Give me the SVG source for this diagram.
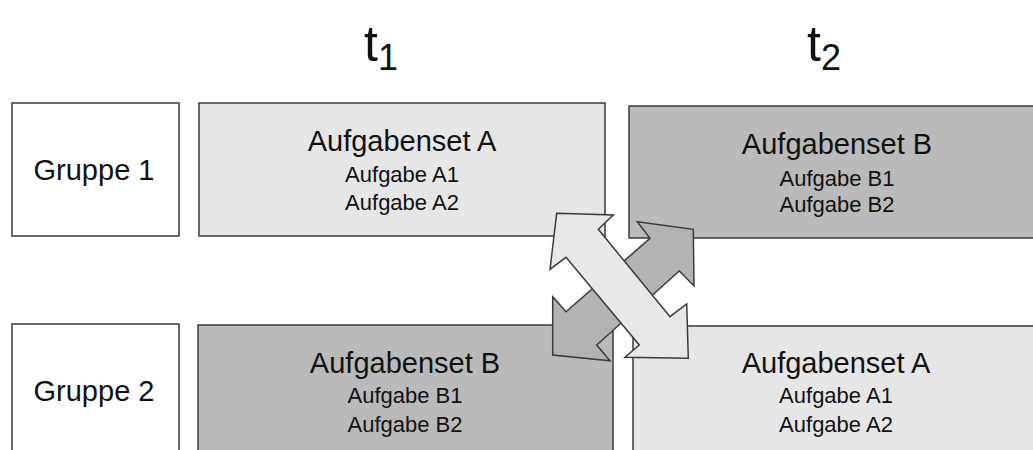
<svg xmlns="http://www.w3.org/2000/svg" width="1033" height="450" viewBox="0 0 1033 450">
<style>
  .box { stroke: #3a3a3a; stroke-width: 1.5; }
  .grp { fill: #ffffff; }
  .lt { fill: #e6e6e6; }
  .dk { fill: #bababa; }
  .t { font-family: "Liberation Sans", Arial, sans-serif; fill: #111; text-anchor: middle; }
  .big { font-size: 29px; }
  .small { font-size: 22px; }
  .time { font-family: "Liberation Sans", Arial, sans-serif; fill: #111; }
  .arr { stroke: #3a3a3a; stroke-width: 1.5; stroke-linejoin: miter; }
</style>
<rect width="1033" height="450" fill="#ffffff"/>
<g id="t1"><text class="time" x="364" y="61" font-size="50">t<tspan font-size="36" dy="9">1</tspan></text></g>
<g id="t2"><text class="time" x="807" y="61" font-size="50">t<tspan font-size="36" dy="9">2</tspan></text></g>
<g id="gruppe1">
  <rect class="box grp" x="12" y="103" width="167" height="133"/>
  <text class="t big" x="94" y="180">Gruppe 1</text>
</g>
<g id="gruppe2">
  <rect class="box grp" x="12" y="324" width="167" height="140"/>
  <text class="t big" x="94" y="401">Gruppe 2</text>
</g>
<g id="g1t1">
  <rect class="box lt" x="199" y="103" width="406" height="133"/>
  <text class="t big" x="402" y="151">Aufgabenset A</text>
  <text class="t small" x="402" y="182">Aufgabe A1</text>
  <text class="t small" x="402" y="210">Aufgabe A2</text>
</g>
<g id="g1t2">
  <rect class="box dk" x="629" y="106" width="420" height="132"/>
  <text class="t big" x="837" y="154">Aufgabenset B</text>
  <text class="t small" x="837" y="186">Aufgabe B1</text>
  <text class="t small" x="837" y="212">Aufgabe B2</text>
</g>
<g id="g2t1">
  <rect class="box dk" x="198" y="325" width="415" height="140"/>
  <text class="t big" x="405" y="373">Aufgabenset B</text>
  <text class="t small" x="405" y="403">Aufgabe B1</text>
  <text class="t small" x="405" y="432">Aufgabe B2</text>
</g>
<g id="g2t2">
  <rect class="box lt" x="633" y="326" width="420" height="140"/>
  <text class="t big" x="836" y="373">Aufgabenset A</text>
  <text class="t small" x="836" y="403">Aufgabe A1</text>
  <text class="t small" x="836" y="432">Aufgabe A2</text>
</g>
<g id="connectors">
  <polygon class="arr" fill="#b3b3b3" points="637.3,221.7 693.3,229.3 694,286 679.3,271 596.7,345 610,360.7 552.7,355 552.7,296.7 566,311.7 650,238.3"/>
  <polygon class="arr" fill="#e8e8e8" points="556.7,213.3 613.3,215 598.3,229.3 670,316.7 686.7,304 688.3,358.3 625,357.3 639.3,345 566,257.3 550,269.3"/>
</g>
</svg>
